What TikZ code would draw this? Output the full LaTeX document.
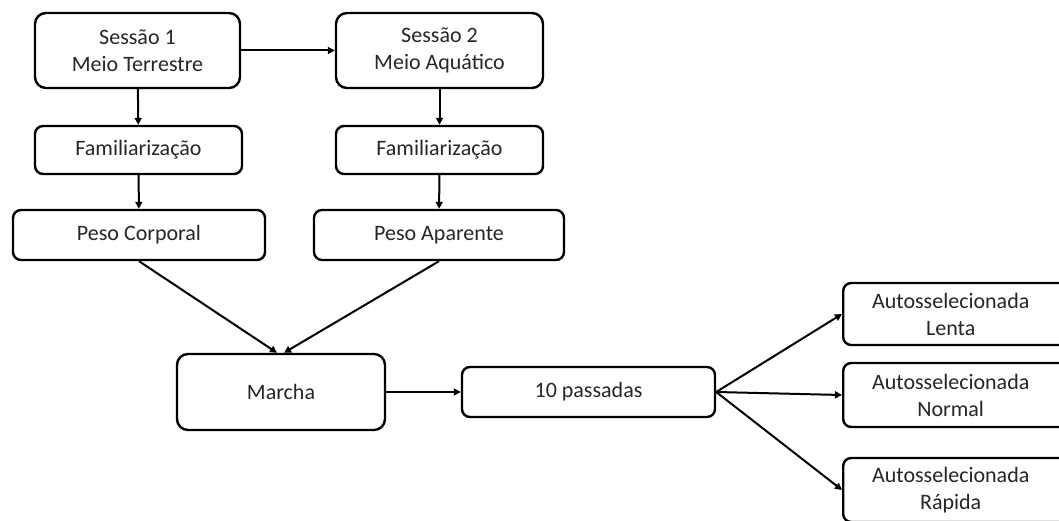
\documentclass[tikz,border=0pt]{standalone}
\usepackage{fontspec}
\setmainfont{Carlito}
\usetikzlibrary{arrows.meta}
\begin{document}
\begin{tikzpicture}[x=1pt,y=-1pt,
  box/.style={draw=black,line width=2.4pt,rounded corners=8pt,fill=white,align=center,
    inner sep=0pt,font=\fontsize{22}{27}\selectfont,text=black!85},
  conn/.style={draw=black,line width=2pt,-{Triangle[length=7pt,width=7pt]}}]
\useasboundingbox (0,0) rectangle (1059,521);
\clip (0,0) rectangle (1059,521);
\node[box,minimum width=205pt,minimum height=75pt,rounded corners=11pt] (s1) at (137.5,50.5) {Sessão 1\\Meio Terrestre};
\node[box,minimum width=207pt,minimum height=75pt,rounded corners=11pt] (s2) at (439.5,50.5) {Sessão 2\\Meio Aquático};
\node[box,minimum width=207pt,minimum height=48pt] (f1) at (138.5,150) {Familiarização};
\node[box,minimum width=207pt,minimum height=48pt] (f2) at (439.5,150) {Familiarização};
\node[box,minimum width=252pt,minimum height=50pt] (p1) at (139,235) {Peso Corporal};
\node[box,minimum width=250pt,minimum height=50pt] (p2) at (439,235) {Peso Aparente};
\node[box,minimum width=208pt,minimum height=76pt,rounded corners=11pt] (m) at (281,392) {Marcha};
\node[box,minimum width=253pt,minimum height=50pt] (t) at (588.5,392) {10 passadas};
\node[box,minimum width=228pt,minimum height=62pt,anchor=west] (l) at (842,314) {\hspace*{-13pt}Autosselecionada\\\hspace*{-13pt}Lenta};
\node[box,minimum width=228pt,minimum height=64pt,anchor=west] (n) at (842,395) {\hspace*{-13pt}Autosselecionada\\\hspace*{-13pt}Normal};
\node[box,minimum width=228pt,minimum height=64pt,anchor=west] (r) at (842,490) {\hspace*{-13pt}Autosselecionada\\\hspace*{-13pt}Rápida};
\draw[conn] (s1) -- (s2);
\draw[conn] (s1) -- (f1);
\draw[conn] (s2) -- (f2);
\draw[conn] (f1) -- (p1);
\draw[conn] (f2) -- (p2);
\draw[conn] (p1.south) -- ([xshift=-4pt]m.north);
\draw[conn] (p2.south) -- ([xshift=3pt]m.north);
\draw[conn] (m) -- (t);
\draw[conn] (t.east) -- (l.west);
\draw[conn] (t.east) -- (n.west);
\draw[conn] (t.east) -- (r.west);
\end{tikzpicture}
\end{document}
